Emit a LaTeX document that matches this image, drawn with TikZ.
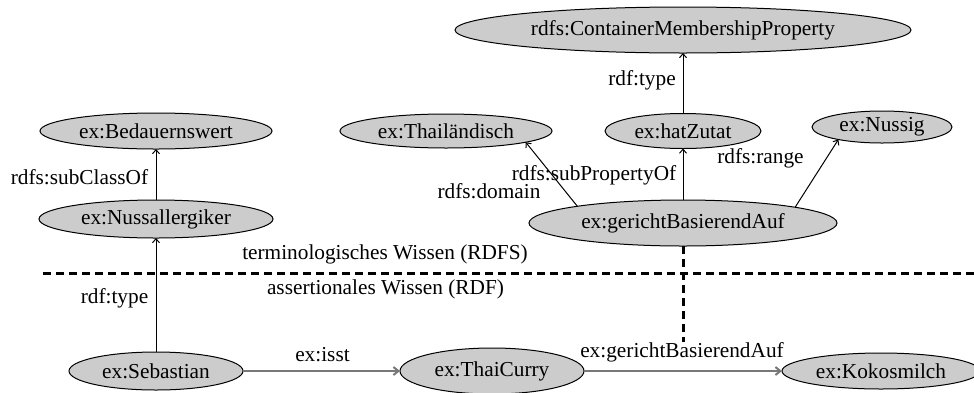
\documentclass[tikz,border=0pt]{standalone}
\usepackage{fontspec}
\setmainfont{Liberation Serif}
\usetikzlibrary{arrows.meta,shapes.geometric}
\definecolor{nodefill}{RGB}{204,204,204}
\definecolor{edgegray}{RGB}{120,120,120}
\begin{document}
\begin{tikzpicture}[x=0.5pt,y=-0.5pt,
  every node/.style={font=\fontsize{10.65}{12.8}\selectfont},
  res/.style={ellipse,draw=black,line width=0.5pt,fill=nodefill,inner sep=0pt,outer sep=0pt},
  lbl/.style={inner sep=0pt},
  arr/.style={draw=black,line width=0.5pt,-{Straight Barb[length=2pt,width=3.5pt]}},
  garr/.style={draw=edgegray,line width=1pt,-{Straight Barb[length=2.5pt,width=4pt]}},
  sep/.style={draw=black,line width=1.5pt,dash pattern=on 4pt off 2.5pt}]
\useasboundingbox (0,0) rectangle (974,392);

% resources
\node[res,minimum width=116pt,minimum height=18pt] (bed) at (156,131) {ex:Bedauernswert};
\node[res,minimum width=117pt,minimum height=19pt] (nuss) at (156,219) {ex:Nussallergiker};
\node[res,minimum width=87pt,minimum height=19pt] (seb) at (156,371) {ex:Sebastian};
\node[res,minimum width=92pt,minimum height=23pt] (thai) at (492,371) {ex:ThaiCurry};
\node[res,minimum width=99pt,minimum height=18pt] (koko) at (881,371) {ex:Kokosmilch};
\node[res,minimum width=228pt,minimum height=23pt] (cmp) at (683,30) {rdfs:ContainerMembershipProperty};
\node[res,minimum width=106pt,minimum height=17pt] (thl) at (446,131) {ex:Thailändisch};
\node[res,minimum width=78pt,minimum height=17.5pt] (hat) at (683,131) {ex:hatZutat};
\node[res,minimum width=70pt,minimum height=16pt] (nsg) at (882,127) {ex:Nussig};
\node[res,minimum width=154pt,minimum height=23pt] (ger) at (683,223) {ex:gerichtBasierendAuf};

% separator
\coordinate (hl) at (43,273);
\coordinate (hr) at (974,273);
\coordinate (vend) at (683,342);
\draw[sep] (hl) -- (hr);
\draw[sep] (ger.south) -- (vend);

% connectors
\draw[arr] (nuss) -- (bed);
\draw[arr] (seb) -- (nuss);
\draw[arr] (hat) -- (cmp);
\draw[arr] (ger) -- (hat);
\draw[arr] (ger.171.6) -- (thl.-8);
\draw[arr] (ger.8.4) -- (nsg.196);
\draw[garr] (seb) -- (thai);
\draw[garr] (thai) -- (koko);

% labels
\node[lbl] (l1) at (79.5,177) {rdfs:subClassOf};
\node[lbl] (l2) at (114.5,298) {rdf:type};
\node[lbl] (l3) at (642,80) {rdf:type};
\node[lbl] (l4) at (594,175) {rdfs:subPropertyOf};
\node[lbl] (l5) at (489,191) {rdfs:domain};
\node[lbl] (l6) at (760.5,158) {rdfs:range};
\node[lbl] (t1) at (385,254) {terminologisches Wissen (RDFS)};
\node[lbl] (t2) at (385.5,289) {assertionales Wissen (RDF)};
\node[lbl] (l7) at (322.5,355) {ex:isst};
\node[lbl] (l8) at (682,352) {ex:gerichtBasierendAuf};
\end{tikzpicture}
\end{document}
